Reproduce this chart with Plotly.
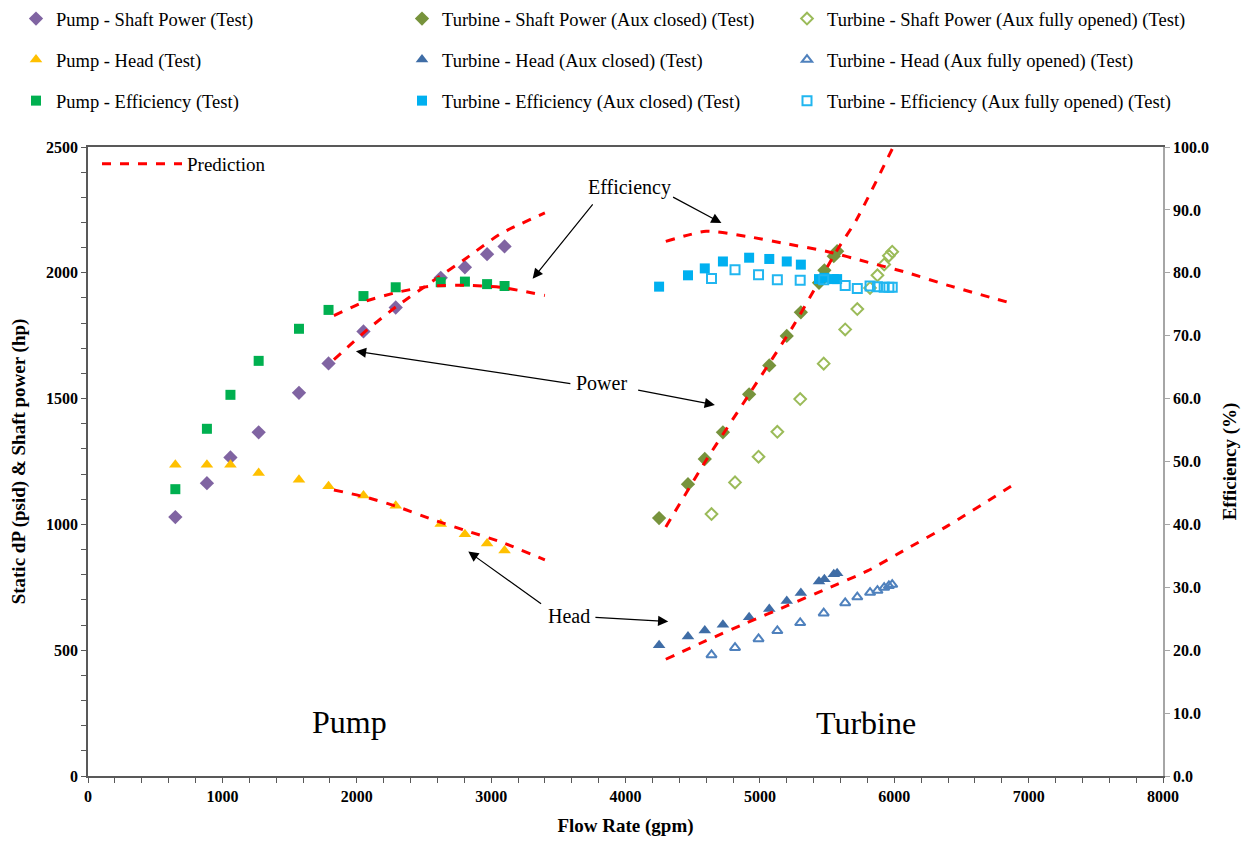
import plotly.graph_objects as go

# ---------------- data ----------------
pump_flow = [650, 885, 1060, 1270, 1570, 1790, 2050, 2290, 2625, 2805, 2970, 3100]
pump_power = [1029, 1164, 1266, 1366, 1523, 1640, 1767, 1862, 1980, 2022, 2074, 2105]
pump_head = [1237, 1237, 1237, 1204, 1177, 1152, 1115, 1074, 1002, 961, 924, 896]
pump_eff = [45.6, 55.2, 60.6, 66.0, 71.1, 74.1, 76.3, 77.7, 78.5, 78.6, 78.2, 77.9]

turb_closed_flow = [4250, 4465, 4590, 4725, 4920, 5070, 5200, 5305, 5440, 5480, 5550, 5575]
turb_closed_power = [1025, 1160, 1260, 1366, 1517, 1632, 1749, 1843, 1960, 2010, 2066, 2086]
turb_closed_head = [520, 554, 578, 601, 631, 664, 696, 727, 773, 782, 802, 806]
turb_closed_eff = [77.8, 79.6, 80.7, 81.8, 82.4, 82.2, 81.8, 81.3, 79.0, 79.2, 79.0, 79.0]

turb_open_flow = [4640, 4815, 4990, 5130, 5300, 5475, 5635, 5725, 5820, 5875, 5925, 5960, 5985]
turb_open_power = [1041, 1167, 1269, 1368, 1498, 1639, 1775, 1856, 1940, 1990, 2033, 2068, 2084]
turb_open_head = [481, 510, 545, 577, 609, 647, 688, 711, 729, 737, 749, 756, 761]
turb_open_eff = [79.1, 80.5, 79.7, 78.9, 78.8, 78.9, 78.0, 77.5, 77.9, 77.8, 77.7, 77.7, 77.7]

pred_pump_flow = [1830, 2070, 2300, 2560, 2820, 3070, 3400]
pred_pump_head = [1137, 1108, 1071, 1020, 974, 931, 859]
pred_pump_power = [1655, 1770, 1868, 1965, 2060, 2155, 2238]
pred_pump_eff = [73.2, 75.5, 76.9, 77.9, 78.0, 77.7, 76.4]

pred_turb_flow = [4300, 4600, 4900, 5200, 5500, 5800, 6100, 6400, 6900]
pred_turb_head = [464, 538, 608, 676, 745, 815, 905, 995, 1162]
pred_turb_eff = [85.0, 86.6, 85.8, 84.6, 83.4, 81.7, 80.0, 78.0, 75.0]
pred_turb_power_flow = [4300, 4600, 4920, 5250, 5570, 5720, 5992]
pred_turb_power = [990, 1255, 1517, 1790, 2086, 2212, 2500]

x_ticks = [0, 1000, 2000, 3000, 4000, 5000, 6000, 7000, 8000]
y_ticks = [0, 500, 1000, 1500, 2000, 2500]
y2_ticks = [0, 10, 20, 30, 40, 50, 60, 70, 80, 90, 100]

FONT = "Liberation Serif"
RED = "#FF0000"
W, H = 1248, 841
ML, MR, MT, MB = 88, 85, 147, 65
PW, PH = W - ML - MR, H - MT - MB

fig = go.Figure()

def add_pts(x, y, name, symbol, color, size, legend, yaxis="y", open_=False):
    marker = dict(symbol=symbol, size=size, color=color)
    if open_:
        marker["line"] = dict(color=color, width=2)
    else:
        marker["line"] = dict(width=0)
    fig.add_trace(go.Scatter(x=x, y=y, mode="markers", name=name, marker=marker,
                             legend=legend, legendgroup=name, yaxis=yaxis))

# column 1
add_pts(pump_flow, pump_power, "Pump - Shaft Power (Test)", "diamond", "#8064A2", 11, "legend")
add_pts(pump_flow, pump_head, "Pump - Head (Test)", "triangle-up", "#FFC000", 11, "legend")
add_pts(pump_flow, pump_eff, "Pump - Efficiency (Test)", "square", "#00B050", 10, "legend", "y2")
# column 2
add_pts(turb_closed_flow, turb_closed_power, "Turbine - Shaft Power (Aux closed) (Test)", "diamond", "#77933C", 11, "legend2")
add_pts(turb_closed_flow, turb_closed_head, "Turbine - Head (Aux closed) (Test)", "triangle-up", "#3F6DA6", 11, "legend2")
add_pts(turb_closed_flow, turb_closed_eff, "Turbine - Efficiency (Aux closed) (Test)", "square", "#00B0F0", 10, "legend2", "y2")
# column 3
add_pts(turb_open_flow, turb_open_power, "Turbine - Shaft Power (Aux fully opened) (Test)", "diamond-open", "#9BBB59", 9, "legend3", open_=True)
add_pts(turb_open_flow, turb_open_head, "Turbine - Head (Aux fully opened) (Test)", "triangle-up-open", "#4F81BD", 9, "legend3", open_=True)
add_pts(turb_open_flow, turb_open_eff, "Turbine - Efficiency (Aux fully opened) (Test)", "square-open", "#21B6F0", 9, "legend3", "y2", open_=True)

# predictions
preds = [
    (pred_pump_flow, pred_pump_head, "y", True),
    (pred_pump_flow, pred_pump_power, "y", False),
    (pred_pump_flow, pred_pump_eff, "y2", False),
    (pred_turb_flow, pred_turb_head, "y", False),
    (pred_turb_power_flow, pred_turb_power, "y", False),
    (pred_turb_flow, pred_turb_eff, "y2", False),
]
for x, y, ax, show in preds:
    fig.add_trace(go.Scatter(x=x, y=y, mode="lines", name="Prediction", yaxis=ax,
                             line=dict(color=RED, width=3, dash="dash", shape="spline", smoothing=0.6),
                             showlegend=show, legend="legend4", legendgroup="pred"))

# annotations
ann = []
arrows = [
    ((3309, 1976), (3765, 2278)),
    ((4714, 2198), (4343, 2304)),
    ((1994, 1688), (3601, 1559)),
    ((4665, 1475), (4083, 1535)),
    ((2830, 892), (3383, 680)),
    ((4318, 614), (3765, 631)),
]
for (hx, hy), (tx, ty) in arrows:
    ann.append(dict(x=hx, y=hy, ax=tx, ay=ty, xref="x", yref="y", axref="x", ayref="y",
                    text="", showarrow=True, arrowhead=2, arrowsize=1.7, arrowwidth=1.2,
                    arrowcolor="black"))
labels = [("Efficiency", 4033, 2338, 20), ("Power", 3822, 1562, 20), ("Head", 3581, 636, 20),
          ("Pump", 1949, 215, 32), ("Turbine", 5789, 211, 32)]
for t, x, y, s in labels:
    ann.append(dict(x=x, y=y, xref="x", yref="y", text=t, showarrow=False,
                    font=dict(family=FONT, size=s, color="black")))

tickfont = dict(family=FONT, size=16, color="black", weight="bold")
titlefont = dict(family=FONT, size=19, color="black", weight="bold")
legfont = dict(family=FONT, size=18.5, color="black")

def px2paper(xpx, ypx):
    return (xpx - ML) / PW, 1 + (MT - ypx) / PH

def leg(xpx, ypx):
    x, y = px2paper(xpx, ypx)
    return dict(x=x, y=y, xanchor="left", yanchor="top", font=legfont, tracegroupgap=14,
                bgcolor="rgba(0,0,0,0)")

lx, ly = px2paper(97, 145)

fig.update_layout(
    width=W, height=H,
    margin=dict(l=ML, r=MR, t=MT, b=MB, autoexpand=False),
    plot_bgcolor="white", paper_bgcolor="white",
    font=dict(family=FONT, color="black"),
    showlegend=True,
    legend=leg(16, 0),
    legend2=leg(402, 0),
    legend3=leg(787, 0),
    legend4=dict(x=lx, y=ly, xanchor="left", yanchor="top",
                 font=dict(family=FONT, size=19, color="black"),
                 bgcolor="rgba(0,0,0,0)", itemwidth=80),
    xaxis=dict(range=[0, 8000], tickvals=x_ticks, tickfont=tickfont,
               title=dict(text="Flow Rate (gpm)", font=titlefont),
               showgrid=False, zeroline=False, showline=True, linecolor="#595959", linewidth=1.5,
               mirror=True, ticks="outside", ticklen=5, tickcolor="#595959",
               minor=dict(dtick=200, ticks="outside", ticklen=5, tickcolor="#595959")),
    yaxis=dict(range=[0, 2500], tickvals=y_ticks, tickfont=tickfont,
               title=dict(text="Static dP (psid) & Shaft power (hp)", font=titlefont),
               showgrid=False, zeroline=False, showline=True, linecolor="#595959", linewidth=1.5,
               ticks="outside", ticklen=5, tickcolor="#595959",
               minor=dict(dtick=100, ticks="outside", ticklen=5, tickcolor="#595959")),
    yaxis2=dict(range=[0, 100], tickvals=y2_ticks, tickformat=".1f", tickfont=tickfont,
                overlaying="y", side="right",
                title=dict(text="Efficiency (%)", font=titlefont),
                showgrid=False, zeroline=False, showline=True, linecolor="#A6A6A6", linewidth=1.5,
                ticks="outside", ticklen=5, tickcolor="#A6A6A6"),
    annotations=ann,
)

fig.write_html("out.html")
